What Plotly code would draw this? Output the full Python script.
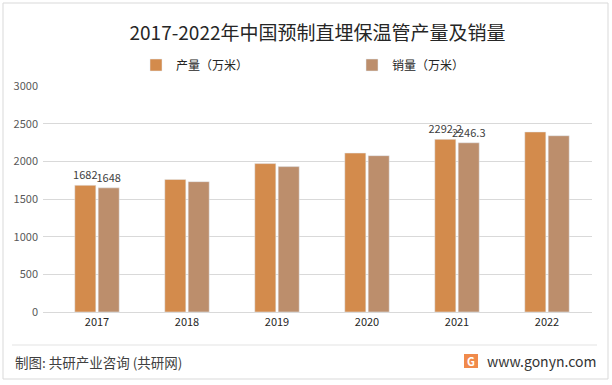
import plotly.graph_objects as go

years = ["2017", "2018", "2019", "2020", "2021", "2022"]
production = [1682, 1760, 1970, 2110, 2292.2, 2390]
sales = [1648, 1730, 1930, 2075, 2246.3, 2340]
prod_labels = ["1682", "", "", "", "2292.2", ""]
sales_labels = ["1648", "", "", "", "2246.3", ""]
y_ticks = [0, 500, 1000, 1500, 2000, 2500, 3000]

FONT = "Noto Sans CJK SC, Noto Sans, sans-serif"
W, H = 612, 385
L, R, T, B = 43, 592, 86, 312  # plot area in pixels

def px(x):
    return (x - L) / (R - L)

def py(y):
    return (B - y) / (B - T)

fig = go.Figure()
fig.add_trace(go.Bar(
    x=years, y=production, name="产量（万米）",
    marker_color="#D38B4C", text=prod_labels, textposition="outside",
    constraintext="none",
    textfont=dict(size=11, color="#404040", family=FONT), cliponaxis=False,
))
fig.add_trace(go.Bar(
    x=years, y=sales, name="销量（万米）",
    marker_color="#BC8E6C", text=sales_labels, textposition="outside",
    constraintext="none",
    textfont=dict(size=11, color="#404040", family=FONT), cliponaxis=False,
))

fig.update_layout(
    width=W, height=H,
    margin=dict(l=L, r=W - R, t=T, b=H - B),
    paper_bgcolor="white", plot_bgcolor="white",
    font=dict(family=FONT, color="#404040"),
    barmode="group", bargap=0.48, bargroupgap=0.1,
    showlegend=True,
    legend=dict(
        orientation="h", x=px(136), y=py(65), xanchor="left", yanchor="middle",
        entrywidth=171, entrywidthmode="pixels",
        font=dict(size=12, color="#262626", family=FONT),
        bgcolor="rgba(0,0,0,0)",
    ),
    title=dict(
        text="2017-2022年中国预制直埋保温管产量及销量",
        x=0.5, xref="paper", xanchor="center",
        y=1 - 33 / H, yref="container", yanchor="middle",
        font=dict(size=19, color="#262626", family=FONT),
    ),
    xaxis=dict(
        type="category", range=[-0.6, 5.5],
        showgrid=False, showline=True, linecolor="#D9D9D9", linewidth=1,
        ticks="", tickfont=dict(size=11, color="#262626", family=FONT),
        fixedrange=True,
    ),
    yaxis=dict(
        range=[0, 3000], tickvals=y_ticks, showgrid=True, gridcolor="#D9D9D9",
        gridwidth=1, zeroline=False, showline=False, ticks="",
        tickfont=dict(size=11, color="#595959", family=FONT),
        ticklabelstandoff=4,
    ),
)

# outer border
fig.add_shape(type="rect", xref="paper", yref="paper",
              x0=px(3), x1=px(608), y0=py(379), y1=py(3),
              line=dict(color="#D9D9D9", width=1), fillcolor="rgba(0,0,0,0)", layer="below")
# footer separator
fig.add_shape(type="line", xref="paper", yref="paper",
              x0=px(12), x1=px(597), y0=py(345), y1=py(345),
              line=dict(color="#E3E3E3", width=1))
# footer texts
fig.add_annotation(text="制图: 共研产业咨询 (共研网)", xref="paper", yref="paper",
                   x=px(13), y=py(362), xanchor="left", yanchor="middle", showarrow=False,
                   font=dict(size=13.5, color="#404040", family=FONT))
fig.add_annotation(text="www.gonyn.com", xref="paper", yref="paper",
                   x=px(598), y=py(361), xanchor="right", yanchor="middle", showarrow=False,
                   font=dict(size=14, color="#333333", family=FONT))
# logo
fig.add_shape(type="rect", xref="paper", yref="paper",
              x0=px(464), x1=px(478), y0=py(368), y1=py(354),
              line=dict(width=0), fillcolor="#F08A4B")
fig.add_annotation(text="<b>G</b>", xref="paper", yref="paper",
                   x=px(471), y=py(361), xanchor="center", yanchor="middle", showarrow=False,
                   font=dict(size=11, color="white", family=FONT))

fig.write_html(
    "out.html",
    config={"displayModeBar": False},
    post_script="document.body.style.margin='0';document.body.style.overflow='hidden';",
)
